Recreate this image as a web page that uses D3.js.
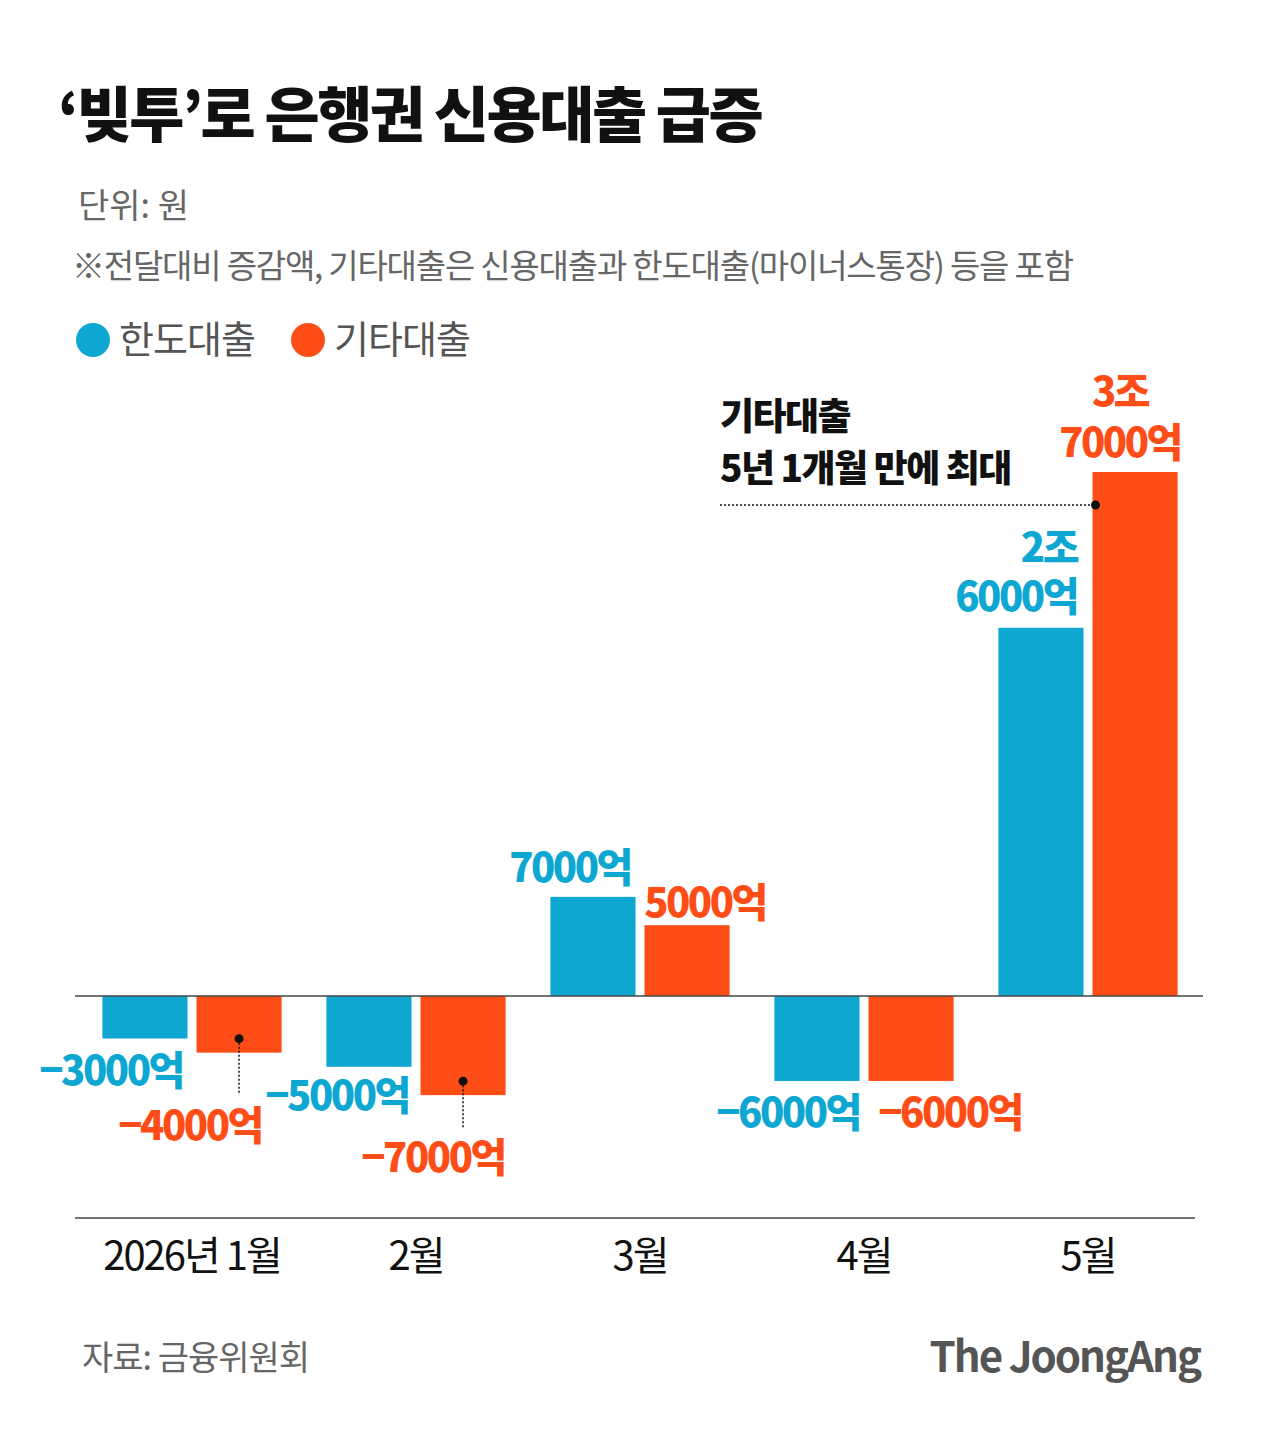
<!DOCTYPE html>
<html><head><meta charset="utf-8">
<script src="https://cdn.jsdelivr.net/npm/d3@7"></script>
<style>body{margin:0;background:#fff}text{font-family:"Noto Sans CJK KR","Noto Sans",sans-serif}</style>
</head><body><div class="canvas"></div>
<script>
const months = ['2026년 1월', '2월', '3월', '4월', '5월'];
const limitLoan = [-3000, -5000, 7000, -6000, 26000];   // 한도대출
const otherLoan = [-4000, -7000, 5000, -6000, 37000];   // 기타대출
const limitLabels = [['-3000억'], ['-5000억'], ['7000억'], ['-6000억'], ['2조', '6000억']];
const otherLabels = [['-4000억'], ['-7000억'], ['5000억'], ['-6000억'], ['3조', '7000억']];
const BLUE = '#0ea7d2', ORANGE = '#ff4d17';

const svg = d3.select('.canvas').append('svg').attr('width', 1284).attr('height', 1431);

const x = d3.scaleBand().domain(months).range([80, 1200]).paddingInner(0.2).paddingOuter(0.1);
const y = d3.scaleLinear().domain([0, 37000]).range([996, 472]);

// header
svg.append('text').attr('x', 58).attr('y', 137).attr('font-size', 60).attr('font-weight', 900)
  .attr('letter-spacing', -2.5).attr('fill', '#111').text('‘빚투’로 은행권 신용대출 급증');
svg.append('text').attr('x', 78).attr('y', 218).attr('font-size', 34).attr('fill', '#666').text('단위: 원');
svg.append('text').attr('x', 72).attr('y', 278).attr('font-size', 33).attr('fill', '#666').attr('letter-spacing', -1.2)
  .text('※전달대비 증감액, 기타대출은 신용대출과 한도대출(마이너스통장) 등을 포함');
[[BLUE, '한도대출', 93], [ORANGE, '기타대출', 308]].forEach(([c, t, cx]) => {
  svg.append('circle').attr('cx', cx).attr('cy', 340).attr('r', 17).attr('fill', c);
  svg.append('text').attr('x', cx + 26).attr('y', 353).attr('font-size', 38).attr('fill', '#555').attr('letter-spacing', -1).text(t);
});

const sub = x.bandwidth() / 2 - 4.5;
const g = svg.append('g');
months.forEach((m, i) => {
  [[limitLoan[i], BLUE, 0], [otherLoan[i], ORANGE, sub + 9]].forEach(([v, c, off]) => {
    g.append('rect').attr('x', x(m) + off).attr('width', sub)
      .attr('y', Math.min(y(v), y(0))).attr('height', Math.abs(y(v) - y(0))).attr('fill', c);
  });
});

// zero and bottom axis lines
svg.append('line').attr('x1', 75).attr('x2', 1203).attr('y1', y(0)).attr('y2', y(0)).attr('stroke', '#444').attr('stroke-width', 1.5);
svg.append('line').attr('x1', 75).attr('x2', 1195).attr('y1', 1218).attr('y2', 1218).attr('stroke', '#444').attr('stroke-width', 1.5);
months.forEach(m => {
  svg.append('text').attr('x', x(m) + x.bandwidth() / 2).attr('y', 1270).attr('text-anchor', 'middle')
    .attr('font-size', 40).attr('letter-spacing', -2).attr('fill', '#111').text(m);
});

// value labels
const labelPos = {
  blue: [[111, 1085, 'middle'], [337, 1110, 'middle'], [570, 882, 'middle'], [788, 1127, 'middle'], [1077, [562, 611], 'end']],
  orange: [[190, 1140, 'middle'], [433, 1172, 'middle'], [705, 917, 'middle'], [950, 1127, 'middle'], [1120, [406, 457], 'middle']]
};
function lab(lines, pos, c) {
  lines.forEach((t, k) => {
    const yy = Array.isArray(pos[1]) ? pos[1][k] : pos[1];
    svg.append('text').attr('x', pos[0]).attr('y', yy).attr('text-anchor', pos[2])
      .attr('font-size', 40).attr('font-weight', 900).attr('letter-spacing', -2.5).attr('fill', c).text(t.replace('-', '−'));
  });
}
limitLabels.forEach((l, i) => lab(l, labelPos.blue[i], BLUE));
otherLabels.forEach((l, i) => lab(l, labelPos.orange[i], ORANGE));

// leaders for Jan/Feb orange
[[0, 1095], [1, 1128]].forEach(([i, y2]) => {
  const cx = x(months[i]) + sub + 9 + sub / 2;
  const cy = y(otherLoan[i]) - 14;
  svg.append('circle').attr('cx', cx).attr('cy', cy).attr('r', 4.5).attr('fill', '#111');
  svg.append('line').attr('x1', cx).attr('x2', cx).attr('y1', cy).attr('y2', y2).attr('stroke', '#111').attr('stroke-width', 1.5).attr('stroke-dasharray', '2,2');
});

// annotation
svg.append('text').attr('x', 720).attr('y', 430).attr('font-size', 37).attr('font-weight', 900).attr('letter-spacing', -1.5).attr('fill', '#111').text('기타대출');
svg.append('text').attr('x', 720).attr('y', 482).attr('font-size', 37).attr('font-weight', 900).attr('letter-spacing', -1.5).attr('fill', '#111').text('5년 1개월 만에 최대');
const ax = x(months[4]) + sub + 9 + 3, ay = y(otherLoan[4]) + 33;
svg.append('line').attr('x1', 720).attr('x2', ax).attr('y1', ay).attr('y2', ay).attr('stroke', '#111').attr('stroke-width', 1.5).attr('stroke-dasharray', '2,2');
svg.append('circle').attr('cx', ax).attr('cy', ay).attr('r', 4.5).attr('fill', '#111');

// footer
svg.append('text').attr('x', 82).attr('y', 1370).attr('font-size', 34).attr('fill', '#666').attr('letter-spacing', -1).text('자료: 금융위원회');
svg.append('text').attr('x', 1200).attr('y', 1372).attr('text-anchor', 'end').attr('font-family', '"DejaVu Serif",serif')
  .attr('font-size', 42).attr('font-weight', 'bold').attr('letter-spacing', -2).attr('fill', '#555').text('The JoongAng');
</script></body></html>
